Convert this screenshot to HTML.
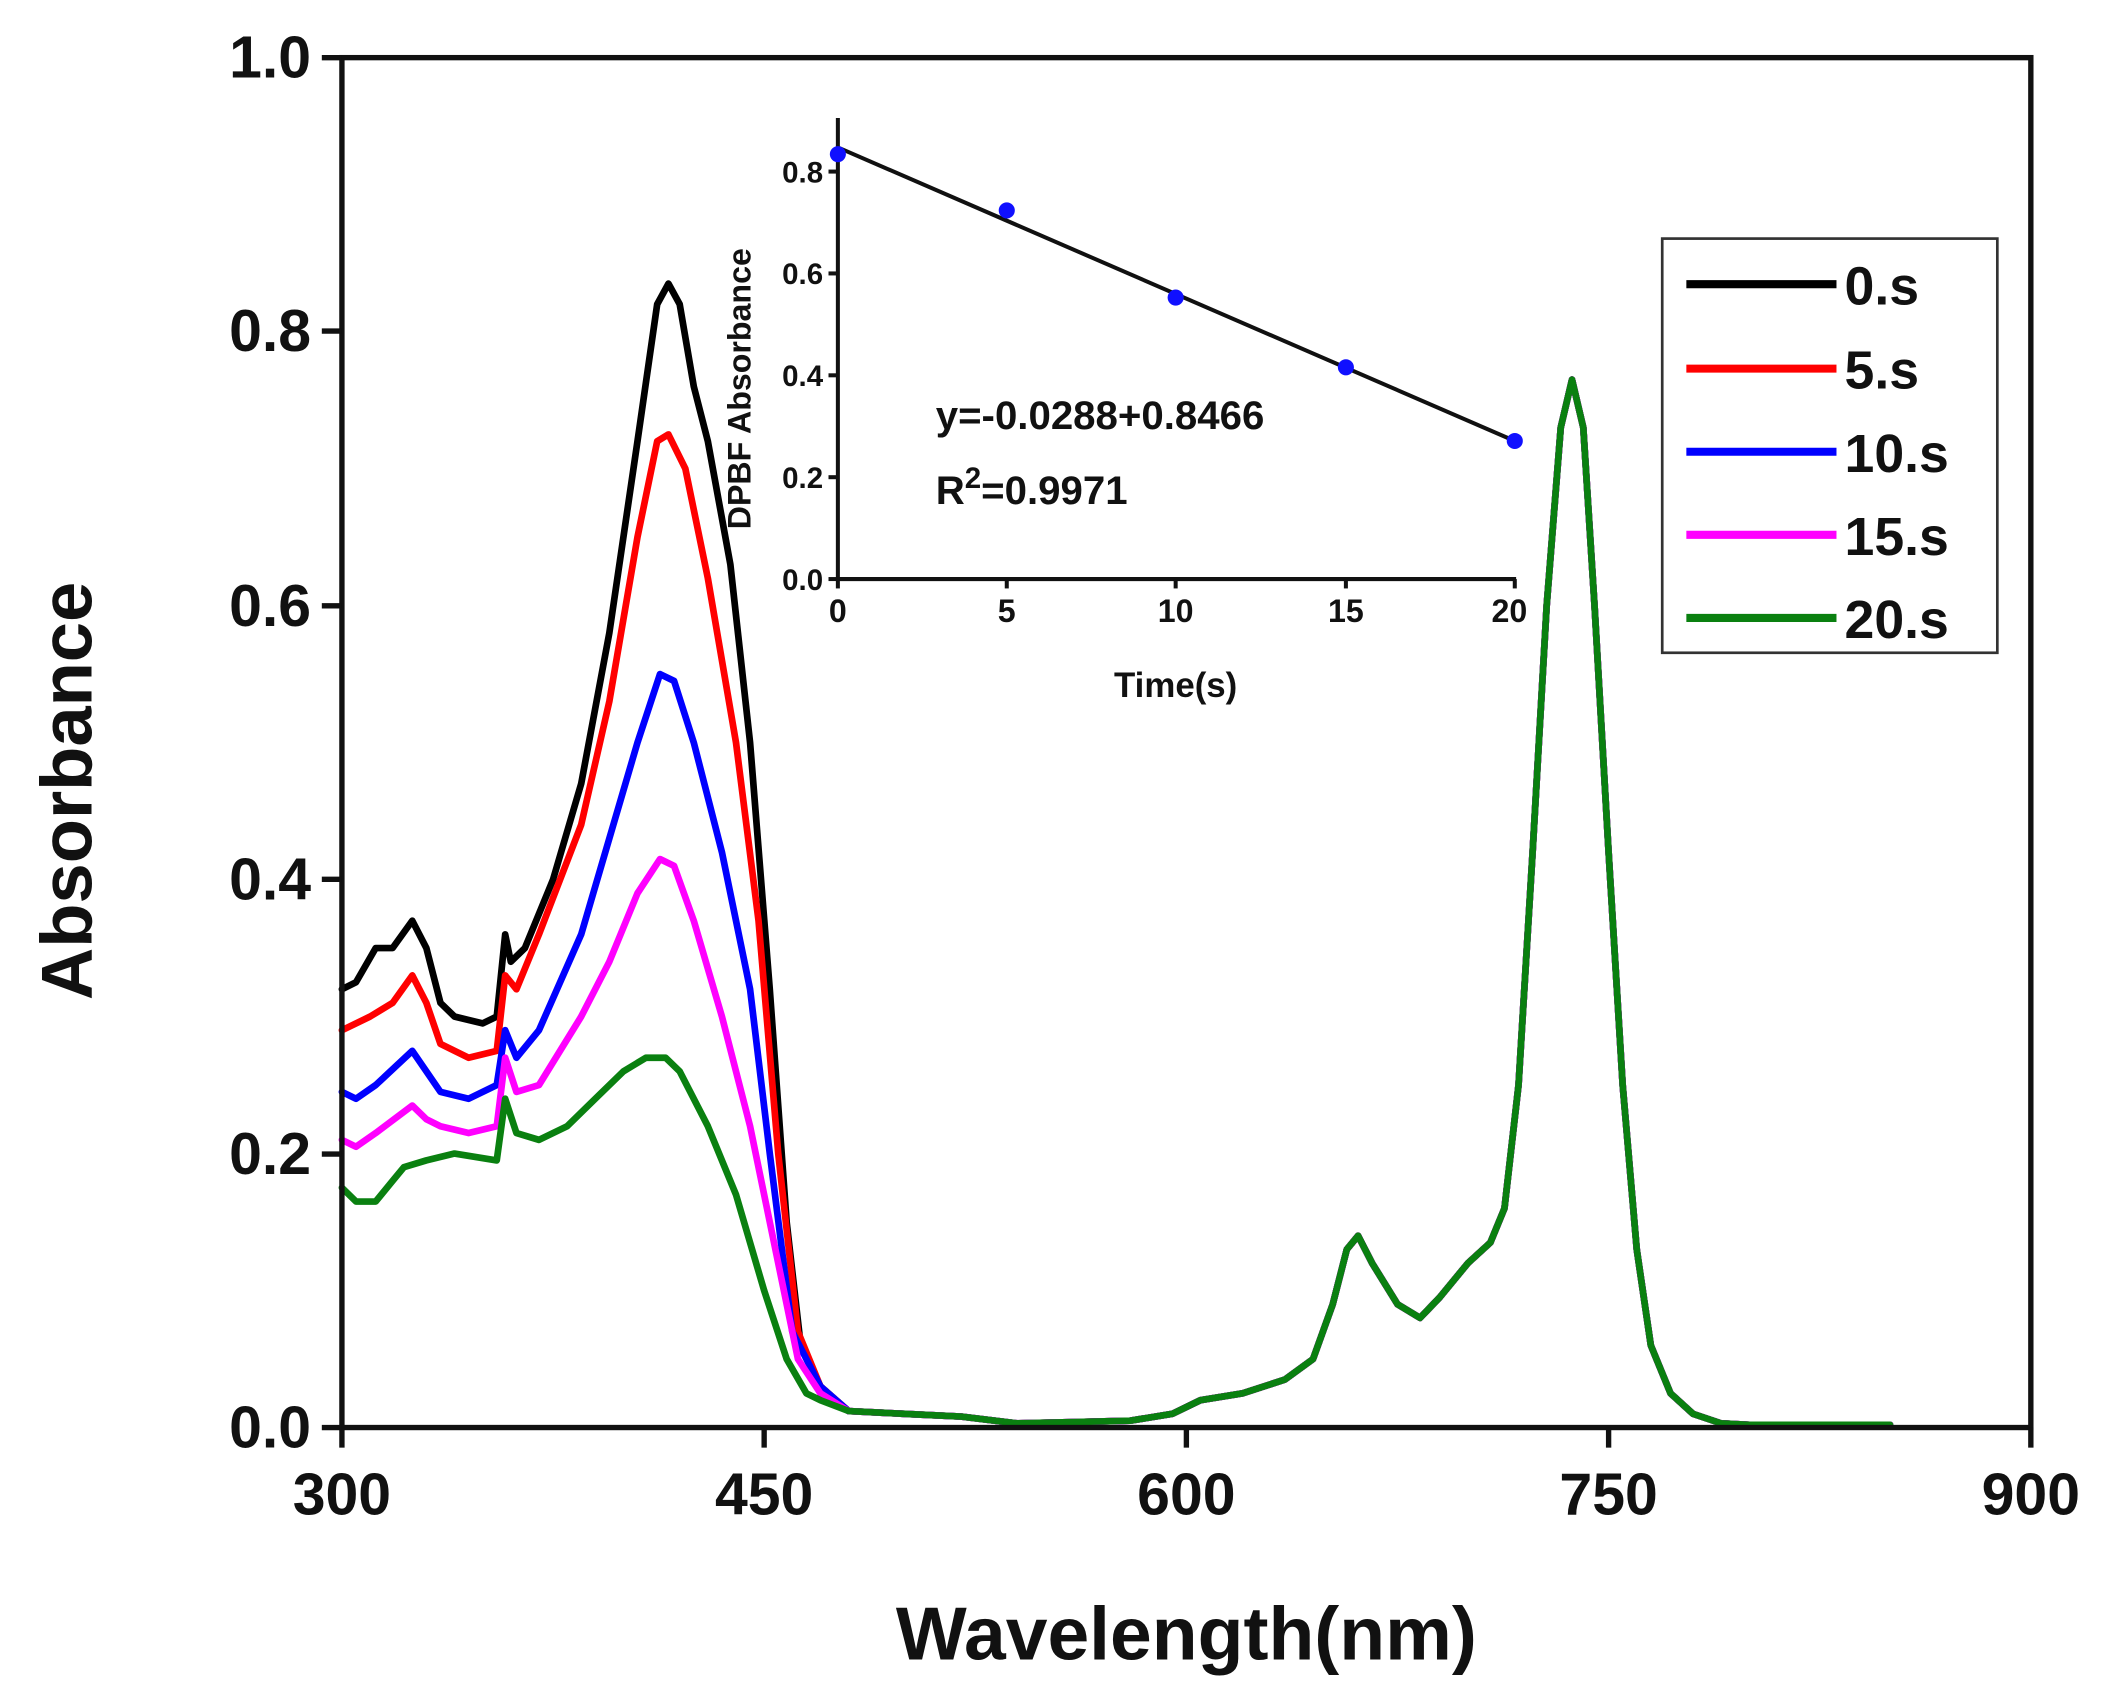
<!DOCTYPE html>
<html><head><meta charset="utf-8"><style>
html,body{margin:0;padding:0;background:#fff;}
svg{display:block;}
text{font-family:"Liberation Sans",Arial,sans-serif;font-weight:bold;fill:#111;}
</style></head><body>
<svg id="s" width="2102" height="1705" viewBox="0 0 1568 1272" xmlns="http://www.w3.org/2000/svg">
<rect width="1568" height="1272" fill="#fff"/>
<g id="curves" fill="none" stroke-width="5" stroke-linejoin="round" stroke-linecap="round"></g>
<!-- main axes -->
<rect x="255" y="43" width="1260" height="1022" fill="none" stroke="#111" stroke-width="4"/>
<g stroke="#111" stroke-width="4">
<line x1="255" y1="1065" x2="255" y2="1080"/><line x1="570" y1="1065" x2="570" y2="1080"/>
<line x1="885" y1="1065" x2="885" y2="1080"/><line x1="1200" y1="1065" x2="1200" y2="1080"/>
<line x1="1515" y1="1065" x2="1515" y2="1080"/>
<line x1="240" y1="1065" x2="255" y2="1065"/><line x1="240" y1="861" x2="255" y2="861"/>
<line x1="240" y1="656" x2="255" y2="656"/><line x1="240" y1="452" x2="255" y2="452"/>
<line x1="240" y1="247" x2="255" y2="247"/><line x1="240" y1="43" x2="255" y2="43"/>
</g>
<g font-size="44" text-anchor="middle">
<text x="255" y="1130">300</text><text x="570" y="1130">450</text><text x="885" y="1130">600</text>
<text x="1200" y="1130">750</text><text x="1515" y="1130">900</text>
</g>
<g font-size="44" text-anchor="end">
<text x="232" y="1080">0.0</text><text x="232" y="876">0.2</text><text x="232" y="671">0.4</text>
<text x="232" y="467">0.6</text><text x="232" y="262">0.8</text><text x="232" y="58">1.0</text>
</g>
<text x="885" y="1238" font-size="56" text-anchor="middle">Wavelength(nm)</text>
<text transform="translate(68,590) rotate(-90)" font-size="54" text-anchor="middle">Absorbance</text>
<!-- legend -->
<rect x="1240" y="178" width="250" height="309" fill="#fff" stroke="#333" stroke-width="2"/>
<g stroke-width="6">
<line x1="1258" y1="212" x2="1370" y2="212" stroke="#000"/>
<line x1="1258" y1="275" x2="1370" y2="275" stroke="#ff0000"/>
<line x1="1258" y1="337" x2="1370" y2="337" stroke="#0000ff"/>
<line x1="1258" y1="399" x2="1370" y2="399" stroke="#ff00ff"/>
<line x1="1258" y1="461" x2="1370" y2="461" stroke="#0a8010"/>
</g>
<g font-size="40">
<text x="1376" y="227">0.s</text><text x="1376" y="290">5.s</text><text x="1376" y="352">10.s</text>
<text x="1376" y="414">15.s</text><text x="1376" y="476">20.s</text>
</g>
<!-- inset -->
<g stroke="#111" stroke-width="3">
<line x1="625" y1="88" x2="625" y2="432"/><line x1="625" y1="432" x2="1131" y2="432"/>
<line x1="618" y1="432" x2="625" y2="432"/><line x1="618" y1="356" x2="625" y2="356"/>
<line x1="618" y1="280" x2="625" y2="280"/><line x1="618" y1="204" x2="625" y2="204"/>
<line x1="618" y1="128" x2="625" y2="128"/>
<line x1="625" y1="432" x2="625" y2="439"/><line x1="751" y1="432" x2="751" y2="439"/>
<line x1="877" y1="432" x2="877" y2="439"/><line x1="1004" y1="432" x2="1004" y2="439"/>
<line x1="1130" y1="432" x2="1130" y2="439"/>
</g>
<g font-size="22" text-anchor="end">
<text x="614" y="440">0.0</text><text x="614" y="364">0.2</text><text x="614" y="288">0.4</text>
<text x="614" y="212">0.6</text><text x="614" y="136">0.8</text>
</g>
<g font-size="24" text-anchor="middle">
<text x="625" y="464">0</text><text x="751" y="464">5</text><text x="877" y="464">10</text>
<text x="1004" y="464">15</text><text x="1126" y="464">20</text>
</g>
<text x="877" y="520" font-size="26" text-anchor="middle">Time(s)</text>
<text transform="translate(560,290) rotate(-90)" font-size="24" text-anchor="middle">DPBF Absorbance</text>
<line x1="625" y1="110" x2="1130" y2="329" stroke="#111" stroke-width="3"/>
<g fill="#1010ff">
<circle cx="625" cy="115" r="6"/><circle cx="751" cy="157" r="6"/><circle cx="877" cy="222" r="6"/>
<circle cx="1004" cy="274" r="6"/><circle cx="1130" cy="329" r="6"/>
</g>
<text x="698" y="320" font-size="30">y=-0.0288+0.8466</text>
<text x="698" y="376" font-size="30">R<tspan font-size="22" dy="-12">2</tspan><tspan dy="12">=0.9971</tspan></text>
</svg>
<script>
var tail=[[480,.012],[500,.01],[520,.008],[540,.003],[560,.004],[580,.005],[595,.01],[605,.02],[620,.025],[635,.035],[645,.05],[652,.09],[657,.13],[661,.14],[666,.12],[675,.09],[683,.08],[690,.095],[700,.12],[708,.135],[713,.16],[718,.25],[723,.42],[728,.6],[733,.73],[737,.765],[741,.73],[745,.6],[750,.42],[755,.25],[760,.13],[765,.06],[772,.025],[780,.01],[790,.003],[800,.002],[850,.002]];
var S=[
["#0a8010",[[300,.175],[305,.165],[312,.165],[318,.18],[322,.19],[330,.195],[340,.2],[355,.195],[358,.24],[362,.215],[370,.21],[380,.22],[390,.24],[400,.26],[408,.27],[415,.27],[420,.26],[430,.22],[440,.17],[450,.1],[458,.05],[465,.025],[470,.02]]],
["#ff00ff",[[300,.21],[305,.205],[312,.215],[325,.235],[330,.225],[335,.22],[345,.215],[355,.22],[358,.27],[362,.245],[370,.25],[385,.3],[395,.34],[405,.39],[413,.415],[418,.41],[425,.37],[435,.3],[445,.22],[455,.12],[462,.05],[470,.025]]],
["#0000ff",[[300,.245],[305,.24],[312,.25],[325,.275],[330,.26],[335,.245],[345,.24],[355,.25],[358,.29],[362,.27],[370,.29],[385,.36],[395,.43],[405,.5],[413,.55],[418,.545],[425,.5],[435,.42],[445,.32],[452,.2],[460,.07],[470,.03]]],
["#ff0000",[[300,.29],[310,.30],[318,.31],[325,.33],[330,.31],[335,.28],[345,.27],[355,.275],[358,.33],[362,.32],[370,.36],[385,.44],[395,.53],[405,.65],[412,.72],[416,.725],[422,.7],[430,.62],[440,.5],[448,.37],[455,.2],[462,.07],[470,.03]]],
["#000000",[[300,.32],[305,.325],[312,.35],[318,.35],[325,.37],[330,.35],[335,.31],[340,.30],[350,.295],[355,.30],[358,.36],[360,.34],[365,.35],[375,.40],[385,.47],[395,.58],[405,.72],[412,.82],[416,.835],[420,.82],[425,.76],[430,.72],[438,.63],[445,.5],[452,.32],[458,.15],[463,.06],[470,.03]]]
];
var g=document.getElementById('curves');
S.reverse();
S.forEach(function(s){
 var pts=s[1].concat(tail).map(function(p){return (255+(p[0]-300)*2.1).toFixed(1)+','+(1065-p[1]*1022).toFixed(1);});
 var e=document.createElementNS('http://www.w3.org/2000/svg','polyline');
 e.setAttribute('points',pts.join(' '));e.setAttribute('stroke',s[0]);g.appendChild(e);
});
</script>
</body></html>
